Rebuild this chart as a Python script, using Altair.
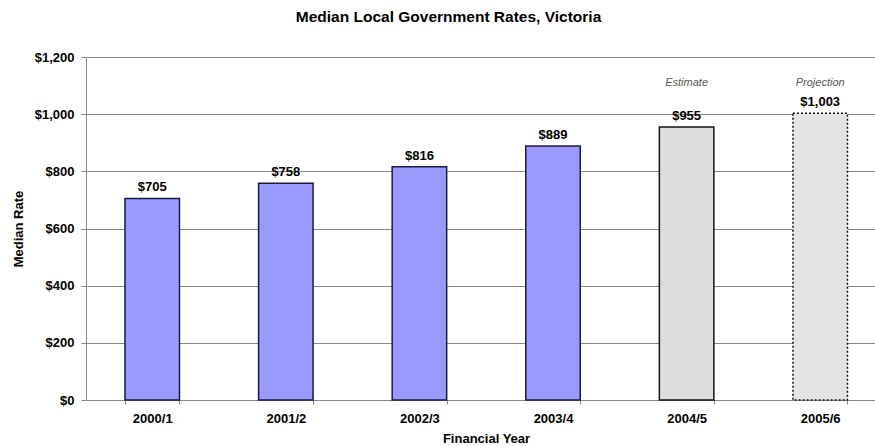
import altair as alt
import pandas as pd

years = ["2000/1", "2001/2", "2002/3", "2003/4", "2004/5", "2005/6"]
rates = [705, 758, 816, 889, 955, 1003]
status = ["Actual", "Actual", "Actual", "Actual", "Estimate", "Projection"]
labels = ["$705", "$758", "$816", "$889", "$955", "$1,003"]
notes = ["", "", "", "", "Estimate", "Projection"]

df = pd.DataFrame({"year": years, "rate": rates, "status": status,
                   "label": labels, "note": notes})

FONT = "Liberation Sans"
STAT = ["Actual", "Estimate", "Projection"]

xscale = alt.Scale(paddingInner=0.592, paddingOuter=0.249, align=0.586)

x = alt.X("year:N", sort=years, title="Financial Year", scale=xscale,
          axis=alt.Axis(labelAngle=0, labelFont=FONT, labelFontSize=13, labelFontWeight="bold",
                        labelColor="black", labelPadding=8, tickBand="extent", tickSize=4,
                        tickColor="#888", domainColor="#888", titleFont=FONT, titleFontSize=13,
                        titleFontWeight="bold", titleColor="black", titlePadding=7, titleX=400))

y = alt.Y("rate:Q", title="Median Rate",
          scale=alt.Scale(domain=[0, 1200]),
          axis=alt.Axis(values=[0, 200, 400, 600, 800, 1000, 1200], format="$,d",
                        labelFont=FONT, labelFontSize=13, labelFontWeight="bold",
                        labelColor="black", labelPadding=7, tickColor="#888", tickSize=5,
                        domainColor="#888", gridColor="#888", gridOpacity=1, titleFont=FONT,
                        titleFontSize=13, titleFontWeight="bold", titleColor="black",
                        titlePadding=9))

base = alt.Chart(df)

bars = base.mark_bar(strokeWidth=1.5).encode(
    x=x, y=y,
    fill=alt.Fill("status:N", scale=alt.Scale(domain=STAT,
                                             range=["#9999FF", "#DCDCDC", "#E4E4E4"]), legend=None),
    stroke=alt.Stroke("status:N", scale=alt.Scale(domain=STAT,
                                                 range=["#1a1a40", "#111111", "#111111"]), legend=None),
    strokeDash=alt.StrokeDash("status:N", scale=alt.Scale(domain=STAT,
                                                         range=[[1, 0], [1, 0], [2, 2]]), legend=None),
)

vals = base.mark_text(font=FONT, fontSize=13, fontWeight="bold", dy=-4, baseline="bottom",
                      color="black").encode(
    x=alt.X("year:N", sort=years, scale=xscale), y="rate:Q", text="label:N")

ann = base.mark_text(font=FONT, fontSize=11, fontStyle="italic", color="#555",
                     baseline="middle").encode(
    x=alt.X("year:N", sort=years, scale=xscale), y=alt.value(26), text="note:N")

chart = alt.layer(bars, vals, ann).properties(
    width=789, height=343,
    title=alt.TitleParams("Median Local Government Rates, Victoria", font=FONT, fontSize=15.5,
                          fontWeight="bold", color="black", offset=26, dx=-32),
    autosize=alt.AutoSizeParams(type="none"),
    padding={"left": 86, "top": 57, "right": 0, "bottom": 46},
).configure_view(stroke=None).configure_axisX(grid=False)

chart.save("out.html", embed_options={"renderer": "svg", "actions": False})
